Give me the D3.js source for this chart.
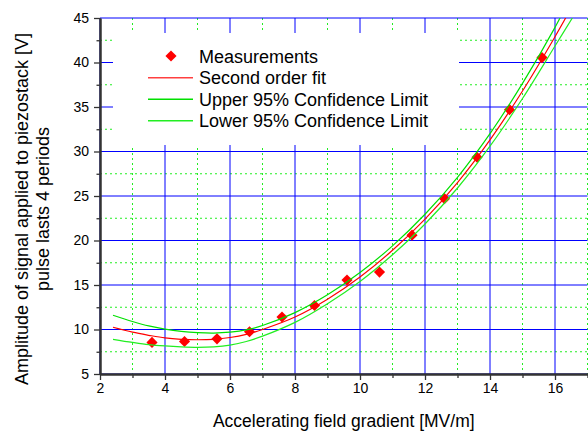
<!DOCTYPE html>
<html>
<head>
<meta charset="utf-8">
<script src="https://cdn.jsdelivr.net/npm/d3@7"></script>
<style>
body{margin:0;background:#fff}
text{font-family:Arial,"Liberation Sans",sans-serif;fill:#000}
</style>
</head>
<body>
<svg id="chart" width="588" height="432"></svg>
<script>
// measured points
var measX=[3.6,4.6,5.6,6.6,7.6,8.6,9.6,10.6,11.6,12.6,13.6,14.6,15.6];
var measY=[8.55,8.65,8.95,9.75,11.4,12.7,15.55,16.45,20.6,24.7,29.35,34.7,40.55];
// fit curve and confidence limits
var fitX=[2.4,3,3.5,4,4.5,5,5.5,6,6.5,7,8,9,10,11,12,13,14,15,16,16.6];
var fitY=[10.25,9.7,9.35,9.05,8.9,8.85,8.9,9.1,9.45,10.0,11.4,13.4,15.9,18.9,22.4,26.5,31.3,36.8,42.9,46.8];
var upperY=[11.6,10.9,10.4,10.05,9.8,9.65,9.6,9.7,9.95,10.45,11.9,13.9,16.4,19.4,22.95,27.1,32.0,37.65,43.95,48.2];
var lowerY=[8.9,8.55,8.3,8.15,8.05,8.0,8.05,8.25,8.65,9.25,10.8,12.9,15.4,18.4,21.85,25.9,30.6,35.95,41.85,45.4];
// ticks
var xMajor=[2,4,6,8,10,12,14,16];
var xMinor=[3,5,7,9,11,13,15,17];
var yMajor=[5,10,15,20,25,30,35,40,45];
var yMinor=[7.5,12.5,17.5,22.5,27.5,32.5,37.5,42.5];
var legendLabels=["Measurements","Second order fit","Upper 95% Confidence Limit","Lower 95% Confidence Limit"];

var svg=d3.select("#chart");
var L=100,R=587.5,T=18,B=374;
var x=d3.scaleLinear().domain([2,17]).range([L,R]);
var y=d3.scaleLinear().domain([5,45]).range([B,T]);

/*网格*/
var grid=svg.append("g");
grid.selectAll(".gxm").data(xMinor).enter().append("line").attr("class","gxm")
	.attr("x1",function(d){return x(d);}).attr("x2",function(d){return x(d);})
	.attr("y1",T).attr("y2",B)
	.attr("stroke","#22ee22").attr("stroke-width",1).attr("stroke-dasharray","2,3");
grid.selectAll(".gym").data(yMinor).enter().append("line").attr("class","gym")
	.attr("x1",L).attr("x2",R)
	.attr("y1",function(d){return y(d);}).attr("y2",function(d){return y(d);})
	.attr("stroke","#22ee22").attr("stroke-width",1).attr("stroke-dasharray","2,3");
grid.selectAll(".gx").data(xMajor).enter().append("line").attr("class","gx")
	.attr("x1",function(d){return x(d);}).attr("x2",function(d){return x(d);})
	.attr("y1",T).attr("y2",B)
	.attr("stroke","#0000ff").attr("stroke-width",1);
grid.selectAll(".gy").data(yMajor).enter().append("line").attr("class","gy")
	.attr("x1",L).attr("x2",R)
	.attr("y1",function(d){return y(d);}).attr("y2",function(d){return y(d);})
	.attr("stroke","#0000ff").attr("stroke-width",1);

/*图例底*/
svg.append("rect").attr("x",113).attr("y",33).attr("width",346).attr("height",112).attr("fill","#fff");

/*数据*/
var clip=svg.append("clipPath").attr("id","plotclip");
clip.append("rect").attr("x",L).attr("y",T).attr("width",R-L).attr("height",B-T);
var plot=svg.append("g").attr("clip-path","url(#plotclip)");

var diamond=d3.symbol().type(d3.symbolSquare).size(62);
plot.selectAll(".pt").data(measX).enter().append("path").attr("class","pt")
	.attr("d",diamond)
	.attr("transform",function(d,i){return "translate("+x(d)+","+y(measY[i])+") rotate(45)";})
	.attr("fill","#ff0000");

function curve(vals){
	return d3.line().x(function(d,i){return x(fitX[i]);}).y(function(d){return y(d);})
		.curve(d3.curveCatmullRom)(vals);
}
plot.append("path").attr("d",curve(upperY)).attr("fill","none").attr("stroke","#00e000").attr("stroke-width",1.2);
plot.append("path").attr("d",curve(lowerY)).attr("fill","none").attr("stroke","#22ee22").attr("stroke-width",1.2);
plot.append("path").attr("d",curve(fitY)).attr("fill","none").attr("stroke","#ff0000").attr("stroke-width",1.2);

/*坐标轴*/
function styleAxis(g){
	g.select(".domain").attr("stroke","#333").attr("stroke-width",2);
	g.selectAll("line").attr("stroke","#333").attr("stroke-width",1.3);
	g.selectAll("text").attr("font-size",14).attr("font-family","Arial, 'Liberation Sans', sans-serif").attr("fill","#111");
}
svg.append("g").attr("transform","translate("+L+",0)")
	.call(d3.axisLeft(y).tickValues(yMinor).tickSize(3.5).tickSizeOuter(0).tickFormat(""))
	.call(styleAxis);
svg.append("g").attr("transform","translate("+L+",0)")
	.call(d3.axisLeft(y).tickValues(yMajor).tickSize(6).tickSizeOuter(0).tickPadding(5))
	.call(styleAxis);
svg.append("g").attr("transform","translate(0,"+B+")")
	.call(d3.axisBottom(x).tickValues(xMinor).tickSize(4).tickSizeOuter(0).tickFormat(""))
	.call(styleAxis);
svg.append("g").attr("transform","translate(0,"+B+")")
	.call(d3.axisBottom(x).tickValues(xMajor).tickSize(6).tickSizeOuter(0).tickPadding(3))
	.call(styleAxis);

/*标题*/
svg.append("text").attr("x",(L+R)/2).attr("y",427).attr("text-anchor","middle")
	.attr("font-size",17.5).text("Accelerating field gradient [MV/m]");
var yt=svg.append("g").attr("transform","translate(0,209) rotate(-90)");
yt.append("text").attr("x",0).attr("y",28).attr("text-anchor","middle").attr("font-size",18)
	.text("Amplitude of signal applied to piezostack [V]");
yt.append("text").attr("x",0).attr("y",49).attr("text-anchor","middle").attr("font-size",18)
	.text("pulse lasts 4 periods");

/*图例*/
var rows=[56,77.7,99.3,120.7];
var legendColors=["#ff0000","#ff4040","#00e000","#22ee22"];
var lg=svg.append("g");
lg.selectAll(".lt").data(legendLabels).enter().append("text").attr("class","lt")
	.attr("x",199).attr("y",function(d,i){return rows[i]+6.5;})
	.attr("font-size",18).text(function(d){return d;});
lg.append("path").attr("d",diamond).attr("transform","translate(171,"+rows[0]+") rotate(45)").attr("fill","#ff0000");
lg.selectAll(".ll").data(legendLabels.slice(1)).enter().append("line").attr("class","ll")
	.attr("x1",148).attr("x2",193)
	.attr("y1",function(d,i){return rows[i+1];}).attr("y2",function(d,i){return rows[i+1];})
	.attr("stroke",function(d,i){return legendColors[i+1];}).attr("stroke-width",1.4);
</script>
</body>
</html>
